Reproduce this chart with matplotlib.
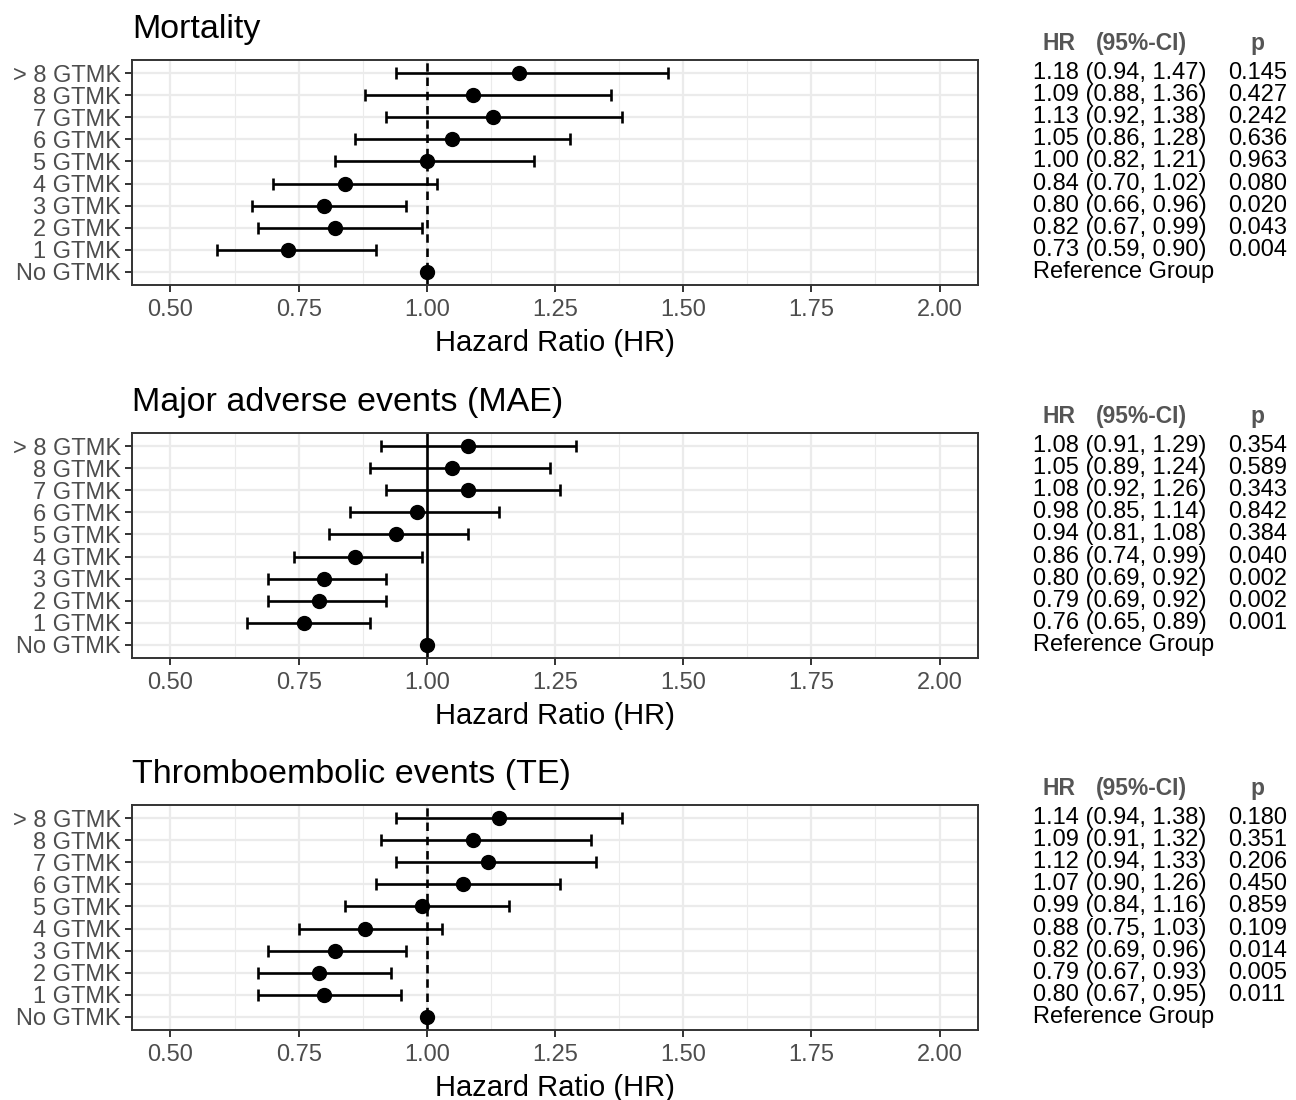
"""
Forest plots of hazard ratios by number of GTMK, for three outcomes,
with a text column of HR (95%-CI) and p-values to the right of each panel.
"""

import numpy as np
import matplotlib.pyplot as plt
from matplotlib.ticker import MultipleLocator
from matplotlib.transforms import blended_transform_factory

plt.rcParams["font.family"] = ["Liberation Sans", "DejaVu Sans"]

# --- Data (top row first) ---
GROUPS = ["> 8 GTMK", "8 GTMK", "7 GTMK", "6 GTMK", "5 GTMK",
          "4 GTMK", "3 GTMK", "2 GTMK", "1 GTMK", "No GTMK"]

MORT_HR = [1.18, 1.09, 1.13, 1.05, 1.00, 0.84, 0.80, 0.82, 0.73, 1.00]
MORT_LO = [0.94, 0.88, 0.92, 0.86, 0.82, 0.70, 0.66, 0.67, 0.59, np.nan]
MORT_HI = [1.47, 1.36, 1.38, 1.28, 1.21, 1.02, 0.96, 0.99, 0.90, np.nan]
MORT_P = [0.145, 0.427, 0.242, 0.636, 0.963, 0.080, 0.020, 0.043, 0.004, np.nan]

MAE_HR = [1.08, 1.05, 1.08, 0.98, 0.94, 0.86, 0.80, 0.79, 0.76, 1.00]
MAE_LO = [0.91, 0.89, 0.92, 0.85, 0.81, 0.74, 0.69, 0.69, 0.65, np.nan]
MAE_HI = [1.29, 1.24, 1.26, 1.14, 1.08, 0.99, 0.92, 0.92, 0.89, np.nan]
MAE_P = [0.354, 0.589, 0.343, 0.842, 0.384, 0.040, 0.002, 0.002, 0.001, np.nan]

TE_HR = [1.14, 1.09, 1.12, 1.07, 0.99, 0.88, 0.82, 0.79, 0.80, 1.00]
TE_LO = [0.94, 0.91, 0.94, 0.90, 0.84, 0.75, 0.69, 0.67, 0.67, np.nan]
TE_HI = [1.38, 1.32, 1.33, 1.26, 1.16, 1.03, 0.96, 0.93, 0.95, np.nan]
TE_P = [0.180, 0.351, 0.206, 0.450, 0.859, 0.109, 0.014, 0.005, 0.011, np.nan]

TITLES = ["Mortality", "Major adverse events (MAE)", "Thromboembolic events (TE)"]
X_TICKS = [0.50, 0.75, 1.00, 1.25, 1.50, 1.75, 2.00]

DASHED = (0, (3.2, 2.2))
panels = [
    (MORT_HR, MORT_LO, MORT_HI, MORT_P, DASHED),
    (MAE_HR, MAE_LO, MAE_HI, MAE_P, "-"),
    (TE_HR, TE_LO, TE_HI, TE_P, DASHED),
]

W, H = 1296, 1100
fig = plt.figure(figsize=(W / 100, H / 100), dpi=100)

panel_tops = [60, 433, 805]
panel_h = 225
left, right = 132, 978
TXT = 17

n = len(GROUPS)
y = np.arange(n)[::-1]  # top group gets the highest y

for (hr, lo, hi, p, ref_ls), title, top in zip(panels, TITLES, panel_tops):
    ax = fig.add_axes([left / W, 1 - (top + panel_h) / H,
                       (right - left) / W, panel_h / H])
    hr = np.array(hr)
    lo = np.array(lo)
    hi = np.array(hi)

    ax.axvline(1.0, color="black", lw=1.9, ls=ref_ls, zorder=2)

    ok = ~np.isnan(lo)
    ax.errorbar(hr[ok], y[ok], xerr=[hr[ok] - lo[ok], hi[ok] - hr[ok]],
                fmt="none", ecolor="black", elinewidth=1.9, capsize=4.5,
                capthick=1.9, zorder=3)
    ax.plot(hr, y, "o", color="black", ms=10, zorder=4)

    ax.set_xlim(0.425, 2.075)
    ax.set_ylim(-0.6, n - 1 + 0.6)
    ax.set_xticks(X_TICKS)
    ax.set_xticklabels([f"{t:.2f}" for t in X_TICKS])
    ax.xaxis.set_minor_locator(MultipleLocator(0.125))
    ax.set_yticks(y)
    ax.set_yticklabels(GROUPS)

    ax.set_axisbelow(True)
    ax.grid(which="major", color="#EBEBEB", lw=1.6)
    ax.grid(which="minor", axis="x", color="#EBEBEB", lw=0.8)
    for s in ax.spines.values():
        s.set_color("#333333")
        s.set_linewidth(1.4)
    ax.tick_params(which="major", length=5, width=1.4, color="#333333",
                   labelcolor="#4D4D4D", labelsize=TXT, pad=3)
    ax.tick_params(axis="x", which="major", pad=5)
    ax.tick_params(which="minor", length=0)

    ax.set_xlabel("Hazard Ratio (HR)", fontsize=21, labelpad=6)
    ax.set_title(title, loc="left", fontsize=24.5, pad=16)

    # text column on the right
    trans = blended_transform_factory(fig.transFigure, ax.transData)
    hy = n - 1 + 1.35
    head = dict(transform=trans, va="center", ha="left", fontsize=16.5,
                fontweight="bold", color="#555555", clip_on=False)
    ax.text(1042 / W, hy, "HR", **head)
    ax.text(1096 / W, hy, "(95%-CI)", **head)
    ax.text(1250 / W, hy, "p", **head)

    for yi, h, l, u, pv in zip(y, hr, lo, hi, p):
        if np.isnan(l):
            ax.text(1033 / W, yi, "Reference Group", transform=trans,
                    va="center", ha="left", fontsize=TXT, clip_on=False)
            continue
        ax.text(1033 / W, yi, f"{h:.2f} ({l:.2f}, {u:.2f})", transform=trans,
                va="center", ha="left", fontsize=TXT, clip_on=False)
        ax.text(1228 / W, yi, f"{pv:.3f}", transform=trans,
                va="center", ha="left", fontsize=TXT, clip_on=False)

fig.savefig("out.png", dpi=100)
